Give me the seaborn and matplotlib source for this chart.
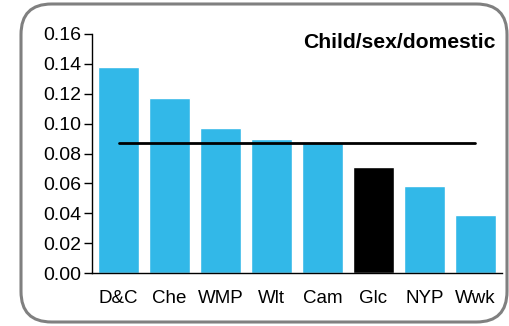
import numpy as np
import pandas as pd
import seaborn as sns
from matplotlib import pyplot as plt
from matplotlib.patches import FancyBboxPatch

# data
categories = ['D&C', 'Che', 'WMP', 'Wlt', 'Cam', 'Glc', 'NYP', 'Wwk']
values = [0.138, 0.117, 0.097, 0.090, 0.087, 0.071, 0.058, 0.039]
highlight = 'Glc'
average = 0.087
title = 'Child/sex/domestic'

sns.set_style('white')
plt.rcParams['font.family'] = ['Liberation Sans', 'DejaVu Sans']
plt.rcParams['text.color'] = 'black'
plt.rcParams['xtick.color'] = 'black'
plt.rcParams['ytick.color'] = 'black'

df = pd.DataFrame({'area': categories, 'rate': values})
blue = '#32B8E8'
palette = {c: ('black' if c == highlight else blue) for c in categories}

fig = plt.figure(figsize=(5.09, 3.26), dpi=100)
# rounded grey frame around the chart
frame = FancyBboxPatch((21 / 509, 4 / 326), 486 / 509, 318 / 326,
                       boxstyle='round,pad=0,rounding_size=0.06',
                       transform=fig.transFigure, facecolor='none',
                       edgecolor='#808080', linewidth=2.2,
                       mutation_aspect=509 / 326, zorder=5)
fig.patches.append(frame)

ax = fig.add_axes([92 / 509, 53 / 326, 410 / 509, 239 / 326])
ax.patch.set_alpha(0)
sns.barplot(data=df, x='area', y='rate', hue='area', palette=palette,
            width=0.8, saturation=1, legend=False, ax=ax)

# average line from first to last area
ax.plot([categories[0], categories[-1]], [average, average],
        color='black', linewidth=2)

ax.set_ylim(0, 0.16)
ax.set_xlim(-0.52, 7.52)
ax.set_yticks(np.arange(0, 0.161, 0.02))
ax.set_yticklabels([f'{t:.2f}' for t in np.arange(0, 0.161, 0.02)])
ax.set_xlabel('')
ax.set_ylabel('')
ax.tick_params(axis='y', length=6, width=1, direction='out', labelsize=14,
               pad=2, left=True, color='black')
ax.tick_params(axis='x', length=0, labelsize=13.5, pad=12)
sns.despine(ax=ax)
for s in ['left', 'bottom']:
    ax.spines[s].set_color('black')
    ax.spines[s].set_linewidth(1)

fig.text(496 / 509, 1 - 42 / 326, title, ha='right', va='center',
         fontsize=15.2, fontweight='bold')

fig.savefig('out.png', dpi=100)
